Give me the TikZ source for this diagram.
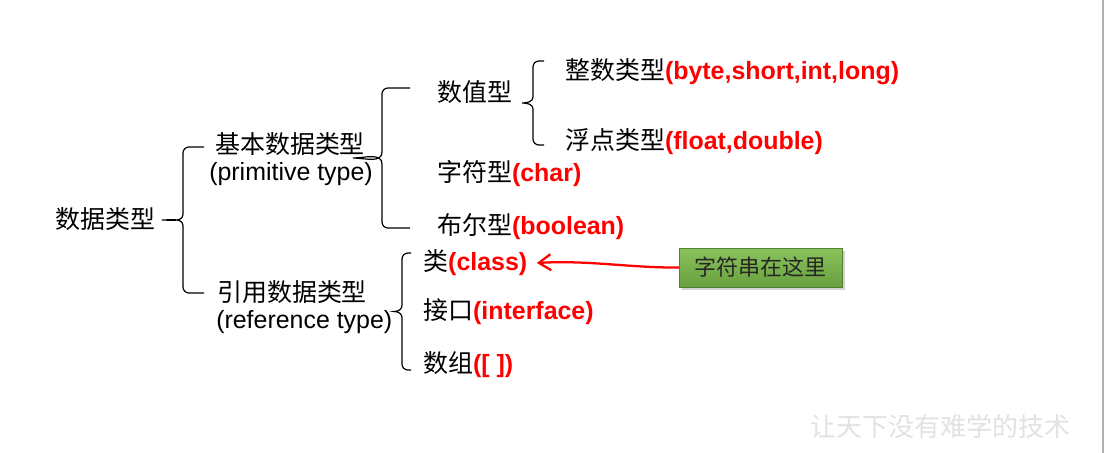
\documentclass[tikz,border=0pt]{standalone}
\usepackage{fontspec}
\setmainfont{Liberation Sans}
\newfontfamily\cjk{Noto Sans CJK SC}
\usetikzlibrary{arrows.meta,shadows}
\definecolor{txtred}{RGB}{255,0,0}
\definecolor{boxtop}{RGB}{138,194,92}
\definecolor{boxbot}{RGB}{104,160,62}
\definecolor{wm}{RGB}{226,226,226}
\newcommand{\mybrace}[5]{% top-end x, vertical x, top y, bottom y, tip x ; mid computed
  \pgfmathsetmacro{\midy}{(#3+#4)/2}
  \draw[bracel] (#1,#3) -- (#2+6,#3) to[out=180,in=90] (#2,#3+6) -- (#2,\midy-6)
     to[out=-90,in=0] (#5,\midy) to[out=0,in=90] (#2,\midy+6) -- (#2,#4-6)
     to[out=-90,in=180] (#2+6,#4) -- (#1,#4);
}
\tikzset{
  txt/.style={anchor=west, inner sep=0pt, font=\fontsize{18.7}{20}\selectfont},
  bracel/.style={line width=0.9pt, black},
  greenbox/.style={draw=boxbot!80!black, line width=0.4pt, top color=boxtop, bottom color=boxbot,
     minimum width=122pt, minimum height=29pt, inner sep=0pt,
     drop shadow={shadow xshift=2pt, shadow yshift=-2pt, fill=black!35},
     font=\cjk\fontsize{16.5}{18}\selectfont, text=black!85},
  redarrow/.style={draw=txtred, line width=1.7pt, -{Straight Barb[length=9pt,width=12pt,line width=1.7pt]}}
}
\begin{document}
\begin{tikzpicture}[x=0.75pt,y=-0.75pt]
\useasboundingbox (0,0) rectangle (1104,453);
\fill[white] (0,0) rectangle (1104,453);
\draw[black!30, line width=0.8pt] (1103,0) -- (1103,453);

% level 0
\node[txt] (root) at (55,219) {\cjk 数据类型};
% level 1
\node[txt] (basic) at (215,144) {\cjk 基本数据类型};
\node[txt] (basicen) at (209,174) {(primitive type)};
\node[txt] (ref) at (217,292) {\cjk 引用数据类型};
\node[txt] (refen) at (216,322) {(reference type)};
% level 2 basic
\node[txt] (num) at (437,92) {\cjk 数值型};
\node[txt] (char) at (437,174) {{\cjk 字符型}{\color{txtred}\bfseries(char)}};
\node[txt] (bool) at (437,227) {{\cjk 布尔型}{\color{txtred}\bfseries(boolean)}};
% level 3 numeric
\node[txt] (int) at (565,72) {{\cjk 整数类型}{\color{txtred}\bfseries(byte,short,int,long)}};
\node[txt] (float) at (565,142) {{\cjk 浮点类型}{\color{txtred}\bfseries(float,double)}};
% level 2 reference
\node[txt] (cls) at (423,263) {{\cjk 类}{\color{txtred}\bfseries(class)}};
\node[txt] (intf) at (423,312) {{\cjk 接口}{\color{txtred}\bfseries(interface)}};
\node[txt] (arr) at (423,365) {{\cjk 数组}{\color{txtred}\bfseries([ ])}};

% braces
\mybrace{204}{183}{147}{293}{162}
\mybrace{410}{382}{88}{228}{353}
\mybrace{544}{533}{61}{145}{522}
\mybrace{411}{402}{253}{370}{394}

% callout
\node[greenbox] (note) at (760.5,267.5) {字符串在这里};
\draw[redarrow] (note.west) .. controls (630,268) and (590,260) .. ([xshift=7pt]cls.east);

% watermark
\node[anchor=west, inner sep=0pt, text=wm, font=\cjk\fontsize{19.5}{20}\selectfont] (wmk) at (810,427) {让天下没有难学的技术};
\end{tikzpicture}
\end{document}
